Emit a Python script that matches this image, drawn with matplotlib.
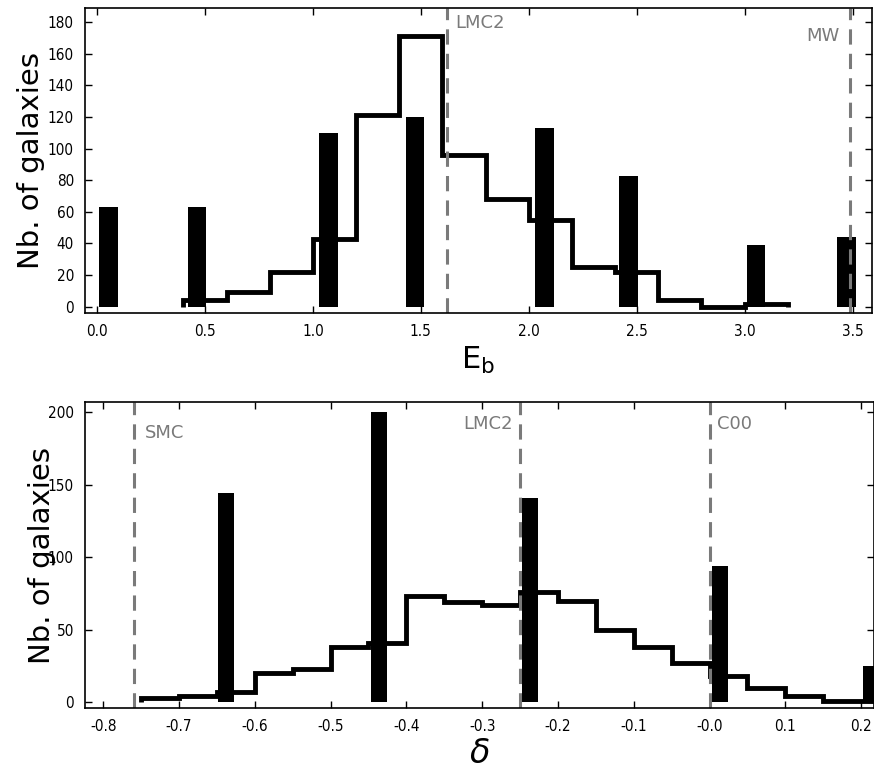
import matplotlib
matplotlib.use("Agg")
import matplotlib.pyplot as plt
import numpy as np

# top panel: E_b
eb_bar_left = [0.01, 0.42, 1.03, 1.43, 2.03, 2.42, 3.01, 3.43]
eb_bar_h = [63, 63, 110, 120, 113, 83, 39, 44]
eb_edges = [0.4, 0.6, 0.8, 1.0, 1.2, 1.4, 1.6, 1.8, 2.0, 2.2, 2.4, 2.6, 2.8, 3.0, 3.2]
eb_counts = [4, 9, 22, 43, 121, 171, 96, 68, 55, 25, 22, 4, 0, 2]
eb_lines = {"LMC2": 1.62, "MW": 3.49}

# bottom panel: delta
d_bar_left = [-0.649, -0.447, -0.247, 0.003, 0.202]
d_bar_h = [144, 200, 141, 94, 25]
d_edges = [-0.75, -0.70, -0.65, -0.60, -0.55, -0.50, -0.45, -0.40, -0.35, -0.30,
           -0.25, -0.20, -0.15, -0.10, -0.05, 0.00, 0.05, 0.10, 0.15, 0.20, 0.25]
d_counts = [3, 4, 7, 20, 23, 38, 41, 73, 69, 67, 76, 70, 50, 38, 27, 18, 10, 4, 1, 1]
d_lines = {"SMC": -0.76, "LMC2": -0.25, "C00": 0.0}

GREY = "#7a7a7a"
W, H = 874, 778
fig = plt.figure(figsize=(W / 100, H / 100), dpi=100)
ax1 = fig.add_axes([85 / W, (H - 313) / H, 787 / W, 305 / H])
ax2 = fig.add_axes([85 / W, (H - 708) / H, 789 / W, 306 / H])

def style(ax):
    ax.tick_params(direction="in", top=True, right=True, length=5, width=1,
                   labelsize=11, pad=8)
    for s in ax.spines.values():
        s.set_linewidth(1.2)
    for lab in ax.get_xticklabels() + ax.get_yticklabels():
        lab.set_fontstretch("condensed")

# top
ax1.bar(eb_bar_left, eb_bar_h, width=0.085, align="edge", color="black")
ax1.stairs(eb_counts, eb_edges, color="black", lw=3.5, baseline=0)
for name, x in eb_lines.items():
    ax1.axvline(x, color=GREY, ls=(0, (5, 3)), lw=2.2)
ax1.text(1.66, 185, "LMC2", color=GREY, fontsize=13, va="top", ha="left")
ax1.text(3.44, 177, "MW", color=GREY, fontsize=13, va="top", ha="right")
ax1.set_xlim(-0.056, 3.59)
ax1.set_ylim(-4, 189)
ax1.set_xticks(np.arange(0, 3.51, 0.5))
ax1.set_xticklabels([f"{v:.1f}" for v in np.arange(0, 3.51, 0.5)])
ax1.set_yticks(np.arange(0, 181, 20))
ax1.set_ylabel("Nb. of galaxies", fontsize=21, labelpad=2)
ax1.set_xlabel(r"E$_\mathregular{b}$", fontsize=22, labelpad=4)
style(ax1)

# bottom
ax2.bar(d_bar_left, d_bar_h, width=0.021, align="edge", color="black")
ax2.stairs(d_counts, d_edges, color="black", lw=3.5, baseline=0)
for name, x in d_lines.items():
    ax2.axvline(x, color=GREY, ls=(0, (5, 3)), lw=2.2)
ax2.text(-0.745, 192, "SMC", color=GREY, fontsize=13, va="top", ha="left")
ax2.text(-0.26, 198, "LMC2", color=GREY, fontsize=13, va="top", ha="right")
ax2.text(0.01, 198, "C00", color=GREY, fontsize=13, va="top", ha="left")
ax2.set_xlim(-0.824, 0.217)
ax2.set_ylim(-4, 207)
xt = np.arange(-0.8, 0.21, 0.1)
ax2.set_xticks(xt)
ax2.set_xticklabels(["-0.0" if abs(v) < 1e-9 else f"{v:.1f}" for v in xt])
ax2.set_yticks([0, 50, 100, 150, 200])
ax2.set_ylabel("Nb. of galaxies", fontsize=21, labelpad=-6)
ax2.set_xlabel(r"$\delta$", fontsize=24, labelpad=2)
style(ax2)

fig.savefig("out.png", dpi=100)
